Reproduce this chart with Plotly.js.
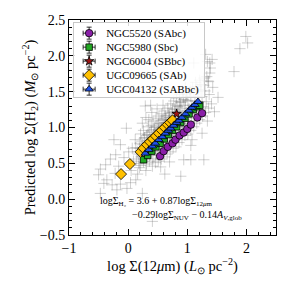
<!DOCTYPE html>
<html>
<head>
<meta charset="utf-8">
<script src="https://cdn.plot.ly/plotly-3.0.1.min.js"></script>
<style>html,body{margin:0;padding:0;background:#fff;}#chart{width:291px;height:291px;}</style>
</head>
<body>
<div id="chart"></div>
<script>
// Background sample (gray crosses)
const grayX = [-0.50,-0.47,-0.47,-0.41,-0.36,-0.27,-0.22,-0.19,-0.13,-0.02,
0.04,0.13,0.24,-0.38,-0.24,-0.13,-0.03,-0.30,-0.16,-0.07,
0.05,0.09,0.01,0.07,0.16,0.19,-0.21,0.12,0.29,0.38,
0.41,0.89,1.06,1.28,1.34,1.25,1.08,1.06,0.94,1.99,
2.02,1.89,1.79,1.42,1.38,1.31,1.34,1.39,1.38,1.28,
1.36,1.23,1.18,1.11,1.46,1.52,0.30,0.55,0.70,0.62,
0.14,0.17,0.13,0.18,0.21,0.22,0.19,0.23,0.21,0.26,
0.27,0.24,0.28,0.26,0.24,0.31,0.32,0.29,0.33,0.31,
0.34,0.30,0.36,0.37,0.35,0.38,0.36,0.39,0.35,0.41,
0.42,0.40,0.43,0.41,0.44,0.42,0.40,0.46,0.47,0.45,
0.48,0.46,0.49,0.47,0.51,0.52,0.50,0.53,0.51,0.54,
0.52,0.49,0.56,0.57,0.55,0.58,0.56,0.59,0.57,0.61,
0.62,0.60,0.63,0.61,0.64,0.62,0.59,0.66,0.67,0.65,
0.68,0.66,0.69,0.67,0.71,0.72,0.70,0.73,0.71,0.74,
0.72,0.76,0.77,0.75,0.78,0.76,0.79,0.77,0.81,0.82,
0.80,0.83,0.81,0.84,0.82,0.86,0.87,0.85,0.88,0.86,
0.89,0.87,0.91,0.92,0.90,0.93,0.91,0.94,0.92,0.96,
0.97,0.95,0.98,0.96,0.99,0.97,1.01,1.02,1.00,1.03,
1.01,1.04,1.06,1.07,1.05,1.08,1.06,1.09,1.11,1.12,
1.10,1.13,1.11,1.14,1.16,1.17,1.15,1.18,1.16,1.21,
1.22,1.20,1.23,1.21,1.26,1.27,1.25,1.28,1.31,1.32,
1.30,1.33,1.36,1.37,1.35,1.41,1.43,
0.20,0.27,0.33,0.39,0.45,0.51,0.57,0.63,0.69,0.75,0.81,0.87,0.93,0.99,1.05,
0.16,0.25,0.34,0.43,0.52,0.61,0.70,0.79,0.88,0.97];
const grayY = [0.34,0.42,0.08,0.22,0.27,0.20,0.36,0.13,0.21,0.15,
0.23,0.27,0.08,0.48,0.83,0.76,0.99,0.56,0.46,0.58,
0.40,0.53,0.66,0.71,0.35,0.44,0.62,0.83,1.30,1.31,
-0.31,0.32,0.55,0.55,1.09,0.92,0.83,0.75,0.55,2.27,
2.18,2.10,1.78,1.95,1.90,2.02,1.92,1.83,1.76,1.69,
1.64,1.60,1.53,1.90,1.22,1.42,0.40,0.45,0.52,0.35,
0.56,0.63,0.72,0.50,0.47,0.59,0.71,0.81,0.91,0.52,
0.63,0.76,0.86,0.96,1.06,0.49,0.57,0.67,0.79,0.89,
1.01,1.14,0.53,0.61,0.71,0.83,0.93,1.03,1.11,0.46,
0.56,0.66,0.75,0.87,0.97,1.09,1.21,0.51,0.63,0.71,
0.81,0.91,1.01,1.13,0.53,0.61,0.73,0.83,0.96,1.06,
1.16,1.26,0.56,0.67,0.77,0.89,0.99,1.11,1.19,0.59,
0.69,0.81,0.91,1.03,1.13,1.23,1.31,0.63,0.75,0.86,
0.97,1.07,1.17,1.27,0.66,0.79,0.89,1.01,1.11,1.21,
1.33,0.71,0.83,0.93,1.05,1.15,1.25,1.37,0.73,0.86,
0.97,1.09,1.19,1.29,1.41,0.79,0.91,1.01,1.13,1.23,
1.35,1.46,0.83,0.96,1.06,1.17,1.27,1.39,1.51,0.89,
1.01,1.11,1.21,1.31,1.43,1.56,0.91,1.05,1.15,1.26,
1.37,1.49,0.96,1.09,1.21,1.31,1.43,1.56,1.01,1.13,
1.26,1.37,1.49,1.63,1.06,1.19,1.31,1.43,1.57,1.11,
1.23,1.36,1.51,1.66,1.16,1.29,1.43,1.59,1.21,1.36,
1.51,1.71,1.27,1.46,1.65,1.33,1.56,
0.78,0.85,0.90,0.95,1.00,1.05,1.10,1.16,1.20,1.26,1.31,1.36,1.42,1.47,1.52,
0.66,0.70,0.82,0.90,0.98,1.07,1.14,1.22,1.30,1.38];

// Galaxies
const ngc5520X = [0.54,0.60,0.67,0.75,0.80,0.87,0.94,1.00,1.06,1.17,1.25];
const ngc5520Y = [0.60,0.67,0.73,0.78,0.83,0.89,0.93,0.98,1.04,1.14,1.20];
const ngc5980X = [0.26,0.33,0.40,0.47,0.54,0.61,0.68,0.75,0.82,0.89,0.96,1.03,1.10,1.16,1.21];
const ngc5980Y = [0.55,0.61,0.67,0.73,0.78,0.84,0.90,0.96,1.01,1.07,1.13,1.19,1.25,1.29,1.31];
const ngc6004X = [0.82];
const ngc6004Y = [1.19];
const ugc09665X = [-0.12,0.03,0.21,0.26,0.32,0.37,0.42,0.47,0.52,0.57,0.62,0.67,0.71,0.75];
const ugc09665Y = [0.35,0.49,0.66,0.71,0.76,0.80,0.84,0.88,0.92,0.96,1.00,1.04,1.07,1.10];
const ugc04132X = [0.29,0.35,0.41,0.46,0.52,0.58,0.63,0.68,0.72,0.77,0.82,0.86,0.91,0.97,1.03,1.08,1.13,1.18];
const ugc04132Y = [0.64,0.69,0.74,0.78,0.83,0.87,0.92,0.96,0.99,1.03,1.07,1.10,1.14,1.19,1.24,1.28,1.32,1.36];

const names = ["NGC5520 (SAbc)","NGC5980 (Sbc)","NGC6004 (SBbc)","UGC09665 (SAb)","UGC04132 (SABbc)"];
const xTickVals = [-1,0,1,2];
const yTickVals = [-0.5,0.0,0.5,1.0,1.5,2.0,2.5];
const yTickText = ["\u22120.5","0.0","0.5","1.0","1.5","2.0","2.5"];
const xTickText = ["\u22121","0","1","2"];

const serif = "Liberation Serif";

function gal(x, y, name, symbol, color, size) {
  return {x: x, y: y, name: name, type: 'scatter', mode: 'markers',
    marker: {symbol: symbol, color: color, size: size, line: {color: '#000', width: 0.8}}};
}

const traces = [
  {x: grayX, y: grayY, type: 'scatter', mode: 'markers', showlegend: false, hoverinfo: 'skip',
   marker: {symbol: 'cross-thin', size: 8, color: 'rgba(90,90,90,0.28)', line: {color: 'rgba(90,90,90,0.28)', width: 1}}},
  gal(ngc5520X, ngc5520Y, names[0], 'circle', '#8a1fa8', 7.5),
  gal(ngc5980X, ngc5980Y, names[1], 'square', '#22a822', 6.5),
  gal(ngc6004X, ngc6004Y, names[2], 'star', '#a01414', 7),
  gal(ugc09665X, ugc09665Y, names[3], 'diamond', '#ffc000', 8.5),
  gal(ugc04132X, ugc04132Y, names[4], 'triangle-up', '#1e50e6', 7.5)
];

const axisCommon = {
  showgrid: false, zeroline: false, showline: true, linecolor: '#000', linewidth: 1,
  mirror: 'allticks', ticks: 'inside', ticklen: 6, tickwidth: 1, tickcolor: '#000',
  tickfont: {family: serif, size: 14, color: '#000'}
};

const layout = {
  width: 291, height: 291,
  margin: {l: 69, r: 15, t: 20, b: 56},
  paper_bgcolor: '#fff', plot_bgcolor: '#fff',
  showlegend: true,
  legend: {x: 0.02, y: 0.99, xanchor: 'left', yanchor: 'top', bgcolor: 'rgba(255,255,255,0.85)',
    bordercolor: '#c8c8c8', borderwidth: 1, font: {family: serif, size: 11, color: '#000'},
    tracegroupgap: 0},
  xaxis: Object.assign({}, axisCommon, {range: [-1, 2.5], tickvals: xTickVals, ticktext: xTickText,
    minor: {ticks: 'inside', dtick: 0.2, ticklen: 3, tickcolor: '#000', showgrid: false},
    title: {text: 'log \u03a3(12<i>\u03bc</i>m) (<i>L</i><sub>\u2299</sub> pc<sup>\u22122</sup>)', font: {family: serif, size: 14.5, color: '#000'}, standoff: 6}}),
  yaxis: Object.assign({}, axisCommon, {range: [-0.5, 2.5], tickvals: yTickVals, ticktext: yTickText,
    minor: {ticks: 'inside', dtick: 0.1, ticklen: 3, tickcolor: '#000', showgrid: false},
    title: {text: 'Predicted log \u03a3(H<sub>2</sub>) (<i>M</i><sub>\u2299</sub> pc<sup>\u22122</sup>)', font: {family: serif, size: 14.5, color: '#000'}, standoff: 0}}),
  annotations: [
    {xref: 'paper', yref: 'paper', x: 0.14, y: 0.158, xanchor: 'left', yanchor: 'middle', showarrow: false,
     text: 'log\u03a3<sub>H\u2082</sub> = 3.6 + 0.87log\u03a3<sub>12<i>\u03bc</i>m</sub>', font: {family: serif, size: 10, color: '#000'}},
    {xref: 'paper', yref: 'paper', x: 0.295, y: 0.089, xanchor: 'left', yanchor: 'middle', showarrow: false,
     text: '\u22120.29log\u03a3<sub>NUV</sub> \u2212 0.14<i>A</i><sub><i>V</i>,glob</sub>', font: {family: serif, size: 10, color: '#000'}}
  ]
};

// Compact the legend (matplotlib-like spacing) and add error-bar glyphs to its symbols
function tidyLegend(gd) {
  const NS = 'http://www.w3.org/2000/svg';
  const items = gd.querySelectorAll('.legend .traces');
  const step = 14, firstY = 11, shiftSym = -5, shiftText = -8;
  let maxRight = 0;
  items.forEach(function (tr, i) {
    tr.setAttribute('transform', 'translate(1,' + (firstY + i * step) + ')');
    const lp = tr.querySelector('.legendpoints');
    if (lp) {
      lp.setAttribute('transform', 'translate(' + shiftSym + ',0)');
      const pt = lp.querySelector('path.scatterpts');
      if (pt) {
        const eb = document.createElementNS(NS, 'path');
        eb.setAttribute('d', 'M-6,0H6M-6,-2.5V2.5M6,-2.5V2.5M0,-6V6M-2.5,-6H2.5M-2.5,6H2.5');
        eb.setAttribute('transform', pt.getAttribute('transform') || '');
        eb.setAttribute('style', 'stroke:#000;stroke-width:0.8px;fill:none;');
        pt.parentNode.insertBefore(eb, pt);
      }
    }
    const tx = tr.querySelector('text.legendtext');
    if (tx) {
      tx.setAttribute('transform', 'translate(' + shiftText + ',0)');
      const bb = tx.getBBox();
      maxRight = Math.max(maxRight, bb.x + bb.width + shiftText + 1);
    }
    const tg = tr.querySelector('rect.legendtoggle');
    if (tg) tg.setAttribute('height', step);
  });
  const bg = gd.querySelector('.legend rect.bg');
  if (bg) {
    bg.setAttribute('height', firstY * 2 + (items.length - 1) * step - 3);
    if (maxRight > 0) bg.setAttribute('width', maxRight + 5);
  }
}

const gd = document.getElementById('chart');
Plotly.newPlot(gd, traces, layout, {displayModeBar: false, staticPlot: true}).then(function () { tidyLegend(gd); });
</script>
</body>
</html>
